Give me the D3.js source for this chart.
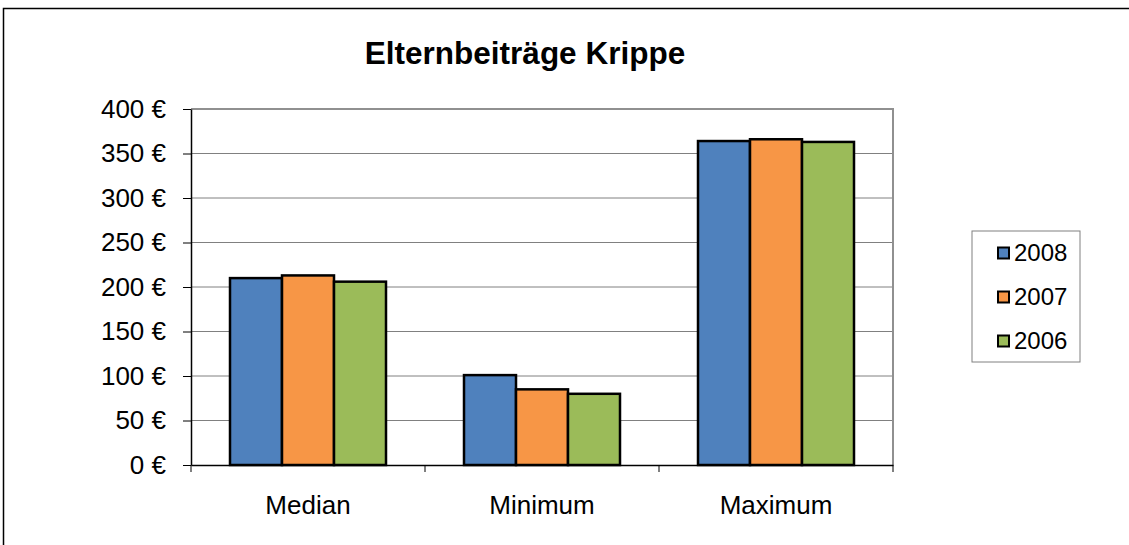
<!DOCTYPE html>
<html>
<head>
<meta charset="utf-8">
<script src="https://cdn.jsdelivr.net/npm/d3@7"></script>
<style>
  body { margin: 0; background: #fff; }
  text { font-family: "Liberation Sans", Arial, sans-serif; }
</style>
</head>
<body>
<script>
const categories = ["Median", "Minimum", "Maximum"];
const years = ["2008", "2007", "2006"];
const values2008 = [210, 101, 364];
const values2007 = [213, 85, 366];
const values2006 = [206, 80, 363];
const yTicks = [0, 50, 100, 150, 200, 250, 300, 350, 400];
const colors = ["#4F81BD", "#F79646", "#9BBB59"];

const series = [values2008, values2007, values2006];

let svg = d3.select("body").append("svg")
  .attr("width", 1129)
  .attr("height", 545);

// chart border
svg.append("rect")
  .attr("x", 3.5).attr("y", 8.5)
  .attr("width", 1140).attr("height", 560)
  .attr("fill", "none").attr("stroke", "#000").attr("stroke-width", 1.5);

const pLeft = 191, pRight = 893, pTop = 109, pBottom = 465;

const x = d3.scaleBand().domain(categories).range([pLeft, pRight]);
const y = d3.scaleLinear().domain([0, 400]).range([pBottom, pTop]);
// bar width = band / (3 + 1.5 gap)
const inner = d3.scaleBand().domain(years)
  .range([0, x.bandwidth()]).paddingOuter(0.75).paddingInner(0);

// gridlines
svg.append("g").selectAll("line")
  .data(yTicks.filter(d => d > 0 && d < 400))
  .join("line")
  .attr("x1", pLeft).attr("x2", pRight)
  .attr("y1", d => y(d)).attr("y2", d => y(d))
  .attr("stroke", "#808080").attr("stroke-width", 1);

// plot area top/right border
svg.append("path")
  .attr("d", `M${pLeft},${pTop}H${pRight}V${pBottom}`)
  .attr("fill", "none").attr("stroke", "#909090").attr("stroke-width", 2);

// bars
series.forEach((vals, i) => {
  svg.append("g").selectAll("rect")
    .data(categories)
    .join("rect")
    .attr("x", c => x(c) + inner(years[i]))
    .attr("y", (c, j) => y(vals[j]))
    .attr("width", inner.bandwidth())
    .attr("height", (c, j) => y(0) - y(vals[j]))
    .attr("fill", colors[i])
    .attr("stroke", "#000").attr("stroke-width", 2.5);
});

// y axis
const yAxis = svg.append("g")
  .attr("transform", `translate(${pLeft},0)`)
  .call(d3.axisLeft(y).tickValues(yTicks).tickSize(8).tickSizeOuter(0)
    .tickFormat(d => d + " €"));
yAxis.select(".domain").attr("stroke", "#000").attr("stroke-width", 1.5);
yAxis.selectAll(".tick line").attr("stroke", "#000");
yAxis.selectAll(".tick text").attr("font-size", 26).attr("fill", "#000")
  .attr("x", -25).attr("font-family", "Liberation Sans, Arial, sans-serif");

// x axis
const xAxis = svg.append("g")
  .attr("transform", `translate(0,${pBottom})`)
  .call(d3.axisBottom(x).tickSize(0).tickSizeOuter(0));
xAxis.select(".domain").attr("stroke", "#000").attr("stroke-width", 1.5);
xAxis.selectAll(".tick text").attr("font-size", 26).attr("fill", "#000")
  .attr("dy", 0).attr("y", 49).attr("font-family", "Liberation Sans, Arial, sans-serif");
// category separators
svg.append("g").selectAll("line")
  .data(categories.concat(["end"]))
  .join("line")
  .attr("x1", (c, i) => i < 3 ? x(c) : pRight)
  .attr("x2", (c, i) => i < 3 ? x(c) : pRight)
  .attr("y1", pBottom).attr("y2", pBottom + 7)
  .attr("stroke", "#000");

// title
svg.append("text")
  .attr("x", 525).attr("y", 64)
  .attr("text-anchor", "middle")
  .attr("font-size", 31.5).attr("font-weight", "bold")
  .text("Elternbeiträge Krippe");

// legend
const legend = svg.append("g");
legend.append("rect")
  .attr("x", 972).attr("y", 231).attr("width", 108).attr("height", 131)
  .attr("fill", "#fff").attr("stroke", "#808080").attr("stroke-width", 1);
years.forEach((yr, i) => {
  const cy = 253 + i * 44;
  legend.append("rect")
    .attr("x", 998).attr("y", cy - 5.5).attr("width", 11).attr("height", 11)
    .attr("fill", colors[i]).attr("stroke", "#000").attr("stroke-width", 2);
  legend.append("text")
    .attr("x", 1014).attr("y", cy).attr("dy", "0.35em")
    .attr("font-size", 24)
    .text(yr);
});
</script>
</body>
</html>
